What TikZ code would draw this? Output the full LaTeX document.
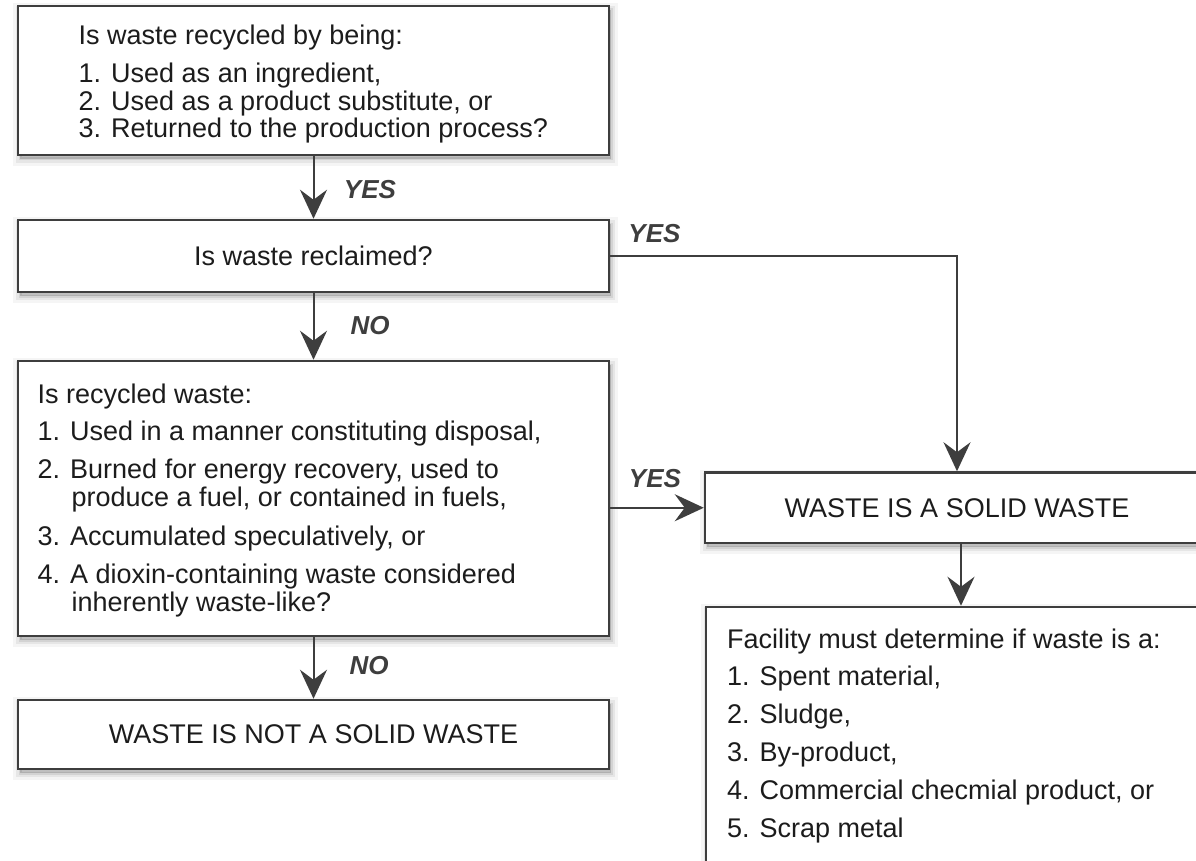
\documentclass[tikz,border=0pt]{standalone}
\usepackage{fontspec}
\setmainfont{Liberation Sans}
\usetikzlibrary{arrows.meta,shadows}
\definecolor{linec}{HTML}{3E3E3E}
\definecolor{txtc}{HTML}{1C1C1C}
\begin{document}
\begin{tikzpicture}[x=1pt,y=-1pt,
  softshadow/.style={
    general shadow={fill=black, draw=black, opacity=0.04, line width=14pt, shadow xshift=2pt, shadow yshift=-4pt},
    general shadow={fill=black, draw=black, opacity=0.06, line width=8pt, shadow xshift=2pt, shadow yshift=-4pt},
    general shadow={fill=black, draw=black, opacity=0.08, line width=3pt, shadow xshift=2pt, shadow yshift=-4pt}},
  box/.style={rectangle, draw=linec, line width=2.5pt, fill=white, inner sep=0pt, softshadow,
    font=\fontsize{27}{27.5}\selectfont, text=txtc},
  txt/.style={anchor=north west, inner sep=0pt, align=left, text=txtc},
  lbl/.style={inner sep=0pt, text=linec, font=\fontsize{26}{26}\selectfont\bfseries\itshape},
  arr/.style={draw=linec, line width=2pt, -{Stealth[length=29pt,width=27pt,inset=10pt]}}
]
\useasboundingbox (0,0) rectangle (1196,861);
\clip (0,0) rectangle (1196,861);
\fill[white] (0,0) rectangle (1196,861);

% boxes
\node[box, minimum width=591pt, minimum height=149pt] (b1) at (313.5,80.5) {};
\node[box, minimum width=591pt, minimum height=72pt] (b2) at (313.5,256) {Is waste reclaimed?};
\node[box, minimum width=591pt, minimum height=275pt] (b3) at (313.5,498.5) {};
\node[box, minimum width=591pt, minimum height=69pt] (b4) at (313.5,734.5) {WASTE IS NOT A SOLID WASTE};
\node[box, minimum width=504pt, minimum height=70.5pt] (solid) at (957,507.75) {WASTE IS A SOLID WASTE};
\node[box, minimum width=510pt, minimum height=300pt] (fac) at (961,757) {};

% texts
\node[txt, font=\fontsize{27}{27.5}\selectfont] (t1) at (78.5,24.7)
  {Is waste recycled by being:\\[11pt]
   1. Used as an ingredient,\\
   2. Used as a product substitute, or\\
   3. Returned to the production process?};
\node[txt, font=\fontsize{27}{27.5}\selectfont] (t3) at (37.5,383.3)
  {Is recycled waste:\\[10pt]
   1. Used in a manner constituting disposal,\\[10.5pt]
   2. Burned for energy recovery, used to\\
   \hspace*{34pt}produce a fuel, or contained in fuels,\\[11.5pt]
   3. Accumulated speculatively, or\\[11pt]
   4. A dioxin-containing waste considered\\
   \hspace*{34pt}inherently waste-like?};
\node[txt, font=\fontsize{27}{37.8}\selectfont] (tf) at (726.8,628.3)
  {Facility must determine if waste is a:\\
   1. Spent material,\\
   2. Sludge,\\
   3. By-product,\\
   4. Commercial checmial product, or\\
   5. Scrap metal};

% connectors
\draw[arr] (b1) -- (b2);
\draw[arr] (b2) -- (b3);
\draw[arr] (b3) -- (b4);
\draw[arr] (b2.east) -| (solid.north);
\draw[arr] (b3.east |- solid.west) -- (solid.west);
\draw[arr] (fac.north |- solid.south) -- (fac.north);

% labels
\node[lbl] (yes1) at (370,189.5) {YES};
\node[lbl] (no1) at (370,326) {NO};
\node[lbl] (yes2) at (654.5,233.3) {YES};
\node[lbl] (yes3) at (655,478.3) {YES};
\node[lbl] (no2) at (369,666) {NO};
\end{tikzpicture}
\end{document}
